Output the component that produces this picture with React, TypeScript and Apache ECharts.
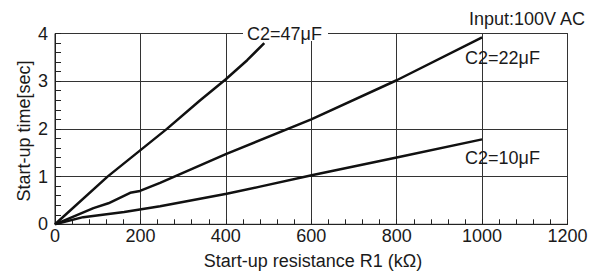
import React, { useEffect, useRef } from "react";
import * as echarts from "echarts";

const FONT = '"Liberation Sans", Arial, sans-serif';

// C2 = 47 uF
const c47X = [0, 123, 262, 340, 400, 450, 490];
const c47Y = [0, 1.0, 2.0, 2.6, 3.04, 3.44, 3.8];
// C2 = 22 uF
const c22X = [0, 90, 125, 176, 199, 246, 400, 600, 800, 1000];
const c22Y = [0, 0.34, 0.44, 0.66, 0.7, 0.87, 1.47, 2.2, 3.02, 3.92];
// C2 = 10 uF
const c10X = [0, 66, 162, 246, 402, 480, 601, 800, 1000];
const c10Y = [0, 0.15, 0.26, 0.38, 0.64, 0.79, 1.03, 1.4, 1.78];

const seriesNames = ["C2=47μF", "C2=22μF", "C2=10μF"];
const xAxisTitle = "Start-up resistance R1 (kΩ)";
const yAxisTitle = "Start-up time[sec]";
const noteText = "Input:100V AC";

const zip = (xs: number[], ys: number[]) => xs.map((x, i) => [x, ys[i]]);

export default function App() {
  const ref = useRef<HTMLDivElement>(null);
  useEffect(() => {
    if (!ref.current) return;
    const chart = echarts.init(ref.current, undefined, { renderer: "svg" });
    const ink = "#1a1a1a";
    const lineSeries = (name: string, data: number[][]) => ({
      name,
      type: "line",
      data,
      symbol: "none",
      lineStyle: { color: "#111", width: 2.5, join: "round" },
      z: 5,
    });
    chart.setOption({
      animation: false,
      backgroundColor: "#fff",
      textStyle: { fontFamily: FONT },
      grid: {
        left: 55,
        right: 35.5,
        top: 33.5,
        bottom: 47.7,
        show: true,
        borderColor: "#222",
        borderWidth: 1,
        backgroundColor: "transparent",
      },
      xAxis: {
        type: "value",
        min: 0,
        max: 1200,
        interval: 200,
        axisLine: { show: true, lineStyle: { color: "#222", width: 1 } },
        axisTick: { show: true, inside: true, length: 5, lineStyle: { color: "#222" } },
        minorTick: { show: true, splitNumber: 5, length: 5, lineStyle: { color: "#222", width: 1 } },
        splitLine: { show: true, lineStyle: { color: "#333", width: 1 } },
        minorSplitLine: { show: false },
        axisLabel: {
          fontSize: 18,
          color: ink,
          margin: 3,
          fontFamily: FONT,
          formatter: (v: number) => String(v),
        },
      },
      yAxis: {
        type: "value",
        min: 0,
        max: 4,
        interval: 1,
        axisLine: { show: true, lineStyle: { color: "#222", width: 1 } },
        axisTick: { show: true, inside: true, length: 6, lineStyle: { color: "#222" } },
        minorTick: { show: true, splitNumber: 5, length: 6, lineStyle: { color: "#222", width: 1 } },
        splitLine: { show: true, lineStyle: { color: "#333", width: 1 } },
        minorSplitLine: { show: false },
        axisLabel: { fontSize: 18, color: ink, margin: 7, fontFamily: FONT, formatter: (v: number) => String(v) },
      },
      series: [
        lineSeries(seriesNames[0], zip(c47X, c47Y)),
        lineSeries(seriesNames[1], zip(c22X, c22Y)),
        lineSeries(seriesNames[2], zip(c10X, c10Y)),
      ],
      graphic: [
        {
          type: "rect",
          z: 100,
          shape: { x: 243, y: 26, width: 85, height: 15 },
          style: { fill: "#fff" },
        },
        {
          type: "text",
          z: 101,
          x: 247,
          y: 34,
          style: { text: seriesNames[0], fontSize: 18, fontFamily: FONT, fill: ink, align: "left", verticalAlign: "middle" },
        },
        {
          type: "text",
          z: 101,
          x: 465,
          y: 58,
          style: { text: seriesNames[1], fontSize: 18, fontFamily: FONT, fill: ink, align: "left", verticalAlign: "middle" },
        },
        {
          type: "text",
          z: 101,
          x: 465,
          y: 158,
          style: { text: seriesNames[2], fontSize: 18, fontFamily: FONT, fill: ink, align: "left", verticalAlign: "middle" },
        },
        {
          type: "text",
          z: 101,
          x: 469,
          y: 18.5,
          style: { text: noteText, fontSize: 18, fontFamily: FONT, fill: ink, align: "left", verticalAlign: "middle" },
        },
        {
          type: "text",
          z: 101,
          x: 313,
          y: 261,
          style: { text: xAxisTitle, fontSize: 18, fontFamily: FONT, fill: ink, align: "center", verticalAlign: "middle" },
        },
        {
          type: "text",
          z: 101,
          x: 24,
          y: 131,
          rotation: Math.PI / 2,
          style: { text: yAxisTitle, fontSize: 18, fontFamily: FONT, fill: ink, align: "center", verticalAlign: "middle" },
        },
      ],
    });
    return () => chart.dispose();
  }, []);
  return (
    <div
      ref={ref}
      style={{ position: "fixed", left: 0, top: 0, width: 603, height: 272, background: "#fff" }}
    />
  );
}
